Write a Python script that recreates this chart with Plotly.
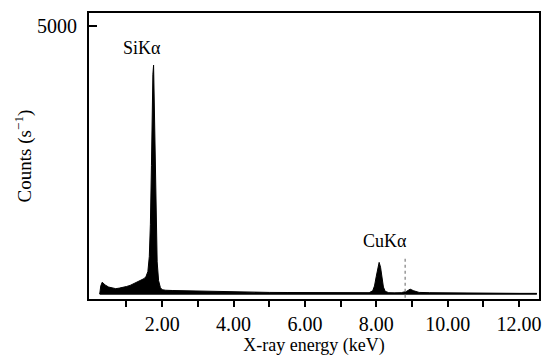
import plotly.graph_objects as go

# Spectrum values
energy_kev = [0.25, 0.28, 0.32, 0.40, 0.50, 0.60, 0.70, 0.80, 0.90, 1.00, 1.10, 1.20,
              1.30, 1.40, 1.50, 1.55, 1.60, 1.64, 1.67, 1.70, 1.72, 1.74, 1.76, 1.78,
              1.80, 1.83, 1.86, 1.90, 1.95, 2.00, 2.10, 2.30, 2.60, 3.00, 3.50, 4.00,
              4.50, 5.00, 5.50, 6.00, 6.50, 7.00, 7.50, 7.80, 7.90, 7.95, 8.00, 8.04,
              8.08, 8.12, 8.16, 8.20, 8.25, 8.35, 8.50, 8.70, 8.85, 8.95, 9.05, 9.20,
              9.50, 10.0, 10.5, 11.0, 11.5, 12.0, 12.5]
counts = [0, 150, 220, 170, 130, 110, 100, 110, 120, 140, 160, 190,
          220, 250, 290, 330, 420, 700, 1300, 2400, 3400, 4100, 4270, 3600,
          2500, 1300, 600, 250, 120, 80, 70, 65, 60, 55, 50, 50,
          35, 30, 28, 25, 22, 22, 20, 25, 60, 150, 330, 500,
          590, 500, 300, 130, 50, 25, 22, 25, 50, 90, 60, 30,
          25, 20, 15, 15, 12, 12, 12]

peak_labels = ["SiKα", "CuKα"]
peak_label_x = [1.44, 8.25]
peak_label_y = [4590, 990]

marker_line_x = [8.81, 8.81]
marker_line_y = [-70, 670]

x_major_ticks = [2, 4, 6, 8, 10, 12]
x_minor_ticks = [1, 3, 5, 7, 9, 11]
x_tick_text = [f"{v:.2f}" for v in x_major_ticks]
y_tick_vals = [5000]
y_tick_text = ["5000"]

FONT = "Liberation Serif, Times New Roman, serif"

fig = go.Figure()
fig.add_trace(go.Scatter(
    x=energy_kev, y=counts, mode="lines", fill="tozeroy",
    fillcolor="black", line=dict(color="black", width=1), hoverinfo="skip",
))
fig.add_trace(go.Scatter(
    x=[energy_kev[0], energy_kev[-1]], y=[0, 0], mode="lines",
    line=dict(color="black", width=1.5), hoverinfo="skip",
))
fig.add_trace(go.Scatter(
    x=marker_line_x, y=marker_line_y, mode="lines",
    line=dict(color="#999999", width=1.5, dash="dot"), hoverinfo="skip",
))

for t, x, y in zip(peak_labels, peak_label_x, peak_label_y):
    fig.add_annotation(x=x, y=y, text=t, showarrow=False,
                       font=dict(family=FONT, size=18, color="black"))

fig.update_layout(
    width=543, height=358,
    margin=dict(l=89, r=4, t=13, b=59),
    paper_bgcolor="white", plot_bgcolor="white",
    showlegend=False,
    font=dict(family=FONT, size=18, color="black"),
    xaxis=dict(
        automargin=False,
        range=[-0.05, 12.56], showgrid=False, zeroline=False,
        tickmode="array", tickvals=x_major_ticks, ticktext=x_tick_text,
        ticks="outside", ticklen=6, tickwidth=2, tickcolor="black",
        minor=dict(tickmode="array", tickvals=x_minor_ticks, ticks="outside",
                   ticklen=6, tickwidth=2, tickcolor="black", showgrid=False),
        showline=True, linecolor="black", linewidth=2, mirror=True,
        title=dict(text="X-ray energy (keV)", standoff=0,
                   font=dict(family=FONT, size=18)),
        tickfont=dict(family=FONT, size=20),
    ),
    yaxis=dict(
        automargin=False,
        range=[-93, 5243], showgrid=False, zeroline=False,
        tickmode="array", tickvals=y_tick_vals, ticktext=y_tick_text,
        ticks="inside", ticklen=8, tickwidth=1.5, tickcolor="black",
        ticklabelstandoff=6,
        showline=True, linecolor="black", linewidth=2, mirror=True,
        title=dict(text="Counts (s<sup>−1</sup>)", standoff=0,
                   font=dict(family=FONT, size=19)),
        tickfont=dict(family=FONT, size=20),
    ),
)

fig.write_html(
    "out.html",
    config={"displayModeBar": False},
    post_script="document.body.style.margin='0';document.documentElement.style.overflow='hidden';",
)
